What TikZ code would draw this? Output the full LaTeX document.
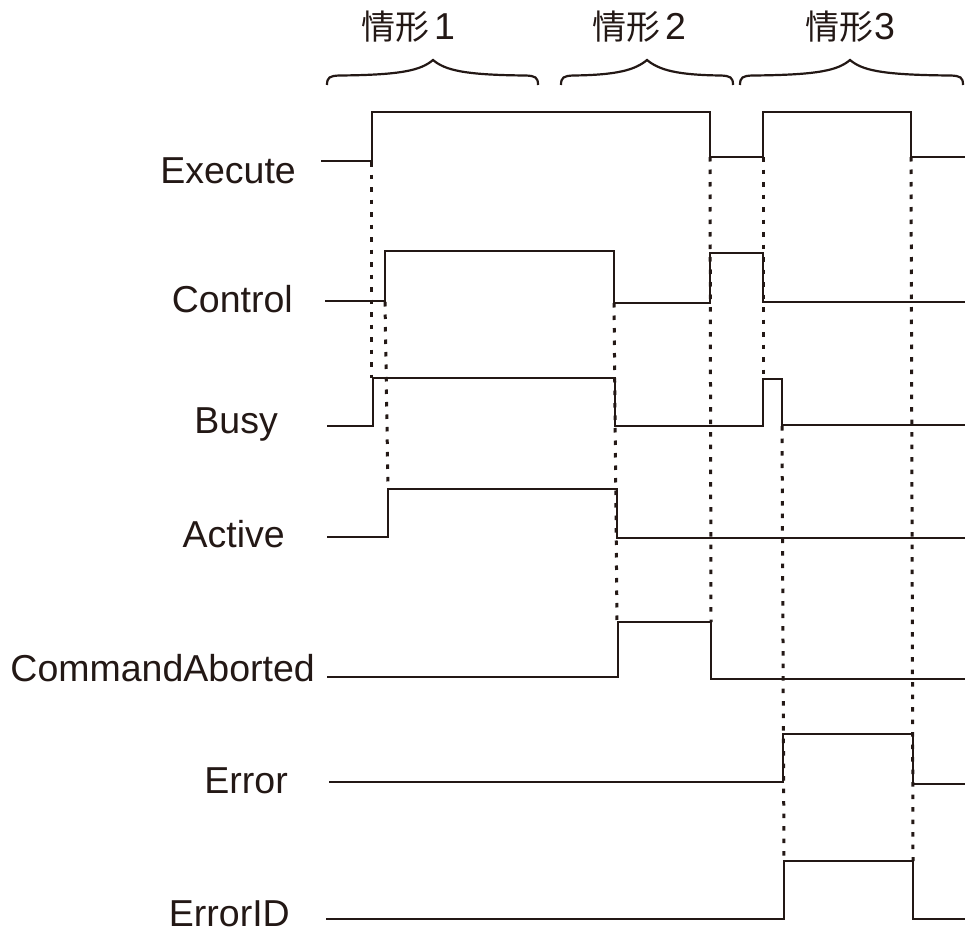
\documentclass[tikz,border=0pt]{standalone}
\usepackage{fontspec}
\setmainfont{Liberation Sans}
\newfontfamily\cjk{Noto Sans CJK SC}
\usetikzlibrary{positioning, calc}

\definecolor{inkdark}{RGB}{35,24,21}

% curly brace over one case: left x, tip x, right x
\newcommand{\casebrace}[3]{%
  \draw[bracel] (#1,85) .. controls (#1,77) and (#1+3,76) .. (#1+12,75.5)
    .. controls (#2-30,75) and (#2-12,70) .. (#2,60)
    .. controls (#2+12,70) and (#2+30,75) .. (#3-12,75.5)
    .. controls (#3-3,76) and (#3,77) .. (#3,85);}

\begin{document}
\begin{tikzpicture}[x=1pt, y=-1pt,
    wave/.style={line width=2.9pt, inkdark, line join=miter},
    guide/.style={line width=3pt, inkdark, dash pattern=on 4.5pt off 8pt},
    bracel/.style={line width=2.2pt, inkdark},
    signame/.style={anchor=base east, inner sep=0pt, text=inkdark,
      font=\fontsize{37.5}{40}\selectfont},
    casename/.style={anchor=base west, inner sep=0pt, text=inkdark,
      font=\fontsize{37.5}{40}\selectfont}]
\useasboundingbox (0,0) rectangle (965,931);

% Case headers
\node[casename] (case1) at (361,40) {{\cjk\fontsize{34}{40}\selectfont 情形}\hspace{5pt}1};
\node[casename] (case2) at (592,40) {{\cjk\fontsize{34}{40}\selectfont 情形}\hspace{5pt}2};
\node[casename] (case3) at (805,40) {{\cjk\fontsize{34}{40}\selectfont 情形}\hspace{1pt}3};
\casebrace{327}{433}{538}
\casebrace{561}{647}{733}
\casebrace{740}{850}{963}

% Signal names
\node[signame] (exec) at (296,183) {Execute};
\node[signame] (ctrl) at (293,312) {Control};
\node[signame] (busy) at (278,433) {Busy};
\node[signame] (actv) at (285,547) {Active};
\node[signame] (abrt) at (315,681) {CommandAborted};
\node[signame] (err)  at (288,793) {Error};
\node[signame] (eid)  at (290,926) {ErrorID};

% Dotted guide lines
\draw[guide] (371,162) -- (371,378);
\draw[guide] (385,302) -- (388,489);
\draw[guide] (614,303) -- (617,622);
\draw[guide] (710,157) -- (711,622);
\draw[guide] (763,157) -- (763,379);
\draw[guide] (782,426) -- (784,861);
\draw[guide] (911,157) -- (913,861);

% Execute
\draw[wave] (321,161) -- (372,161) -- (372,112) -- (710,112) -- (710,157)
  -- (763,157) -- (763,112) -- (911,112) -- (911,157) -- (965,157);
% Control
\draw[wave] (325,301) -- (385,301) -- (385,251) -- (614,251) -- (614,303)
  -- (710,303) -- (710,253) -- (763,253) -- (763,302) -- (965,302);
% Busy
\draw[wave] (327,426) -- (373,426) -- (373,378) -- (615,378) -- (615,426)
  -- (763,426) -- (763,379) -- (782,379) -- (782,425) -- (965,425);
% Active
\draw[wave] (327,537) -- (388,537) -- (388,489) -- (617,489) -- (617,538)
  -- (965,538);
% CommandAborted
\draw[wave] (327,677) -- (618,677) -- (618,622) -- (711,622) -- (711,679)
  -- (965,679);
% Error
\draw[wave] (329,782) -- (783,782) -- (783,734) -- (913,734) -- (913,784)
  -- (965,784);
% ErrorID
\draw[wave] (326,919) -- (784,919) -- (784,861) -- (913,861) -- (913,919)
  -- (965,919);
\end{tikzpicture}
\end{document}
